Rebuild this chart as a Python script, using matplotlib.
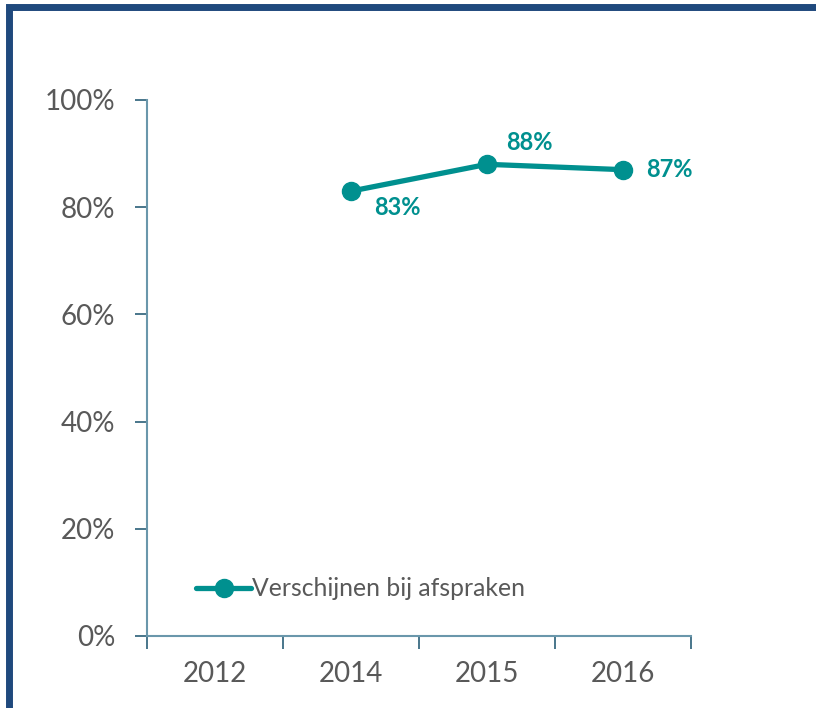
import matplotlib
matplotlib.use("Agg")
import matplotlib.pyplot as plt
from matplotlib.patches import Rectangle
import numpy as np

categories = ["2012", "2014", "2015", "2016"]
values = [np.nan, 83, 88, 87]
series_name = "Verschijnen bij afspraken"
y_ticks = [0, 20, 40, 60, 80, 100]
y_tick_labels = ["0%", "20%", "40%", "60%", "80%", "100%"]

teal = "#00908f"
grey = "#595959"
axis_col = "#6a97ab"

plt.rcParams['font.family'] = ['Lato', 'DejaVu Sans']

fig = plt.figure(figsize=(8.16, 7.08), dpi=100)
ax = fig.add_axes([147/816, 1-636/708, (691-147)/816, (636-100)/708])

x = np.arange(len(categories))
ax.plot(x, values, color=teal, lw=3.8, marker='o', markersize=13,
        solid_capstyle='round', label=series_name, zorder=3)

offsets = {1: (16.5, -11.5), 2: (13.5, 16), 3: (17, 0)}
for i, v in enumerate(values):
    if np.isnan(v):
        continue
    dx, dy = offsets[i]
    ax.annotate(f"{int(v)}%", (x[i], v), xytext=(dx, dy), textcoords='offset points',
                ha='left', va='center', color=teal, fontsize=17, fontweight='bold')

ax.set_xlim(-0.5, len(categories) - 0.5)
ax.set_ylim(0, 100)
ax.set_yticks(y_ticks)
ax.set_yticklabels(y_tick_labels, fontsize=20, color=grey)
ax.set_xticks(x)
ax.set_xticklabels(categories, fontsize=20, color=grey)
ax.set_xticks(np.arange(-0.5, len(categories)), minor=True)
ax.tick_params(axis='x', which='major', length=0, pad=18)
ax.tick_params(axis='x', which='minor', length=9, width=1.2, color='#2a5f78', direction='out')
ax.tick_params(axis='y', which='major', length=9, width=1.2, color='#2a5f78', direction='out', pad=14)

for s in ['top', 'right']:
    ax.spines[s].set_visible(False)
for s in ['left', 'bottom']:
    ax.spines[s].set_color(axis_col)
    ax.spines[s].set_linewidth(1.5)

leg = ax.legend(loc='lower left', bbox_to_anchor=(0.05, 0.025), frameon=False,
                fontsize=17.8, handlelength=2.2, handletextpad=0.05)
for t in leg.get_texts():
    t.set_color(grey)

# outer border
fig.patches.append(Rectangle((8.5/816, -0.05), 1.2, 1 - 7/708 + 0.05,
                             transform=fig.transFigure, fill=False,
                             edgecolor='#1f497d', lw=5, zorder=10))

fig.savefig("out.png", dpi=100)
